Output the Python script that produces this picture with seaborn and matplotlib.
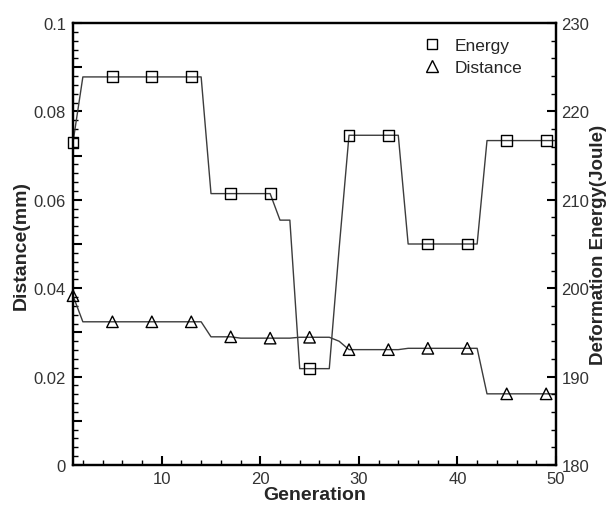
import pandas as pd
import numpy as np
import matplotlib.pyplot as plt
import matplotlib.ticker as mtick
import seaborn as sns
from matplotlib.lines import Line2D

sns.set_style('ticks')
plt.rcParams['font.family'] = ['Liberation Sans', 'DejaVu Sans']

# data (one value per generation)
generation = list(range(1, 51))
energy = [216.5,
          223.9, 223.9, 223.9, 223.9, 223.9, 223.9, 223.9, 223.9, 223.9, 223.9, 223.9, 223.9, 223.9,
          210.7, 210.7, 210.7, 210.7, 210.7, 210.7, 210.7,
          207.7, 207.7,
          190.9, 190.9, 190.9, 190.9,
          204.5,
          217.3, 217.3, 217.3, 217.3, 217.3, 217.3,
          205.0, 205.0, 205.0, 205.0, 205.0, 205.0, 205.0, 205.0,
          216.7, 216.7, 216.7, 216.7, 216.7, 216.7, 216.7, 216.7]
distance = [0.0383,
            0.0324, 0.0324, 0.0324, 0.0324, 0.0324, 0.0324, 0.0324, 0.0324, 0.0324, 0.0324, 0.0324, 0.0324, 0.0324,
            0.0290, 0.0290, 0.0290,
            0.0287, 0.0287, 0.0287, 0.0287, 0.0287, 0.0287,
            0.0289, 0.0289, 0.0289, 0.0289,
            0.0280,
            0.0261, 0.0261, 0.0261, 0.0261, 0.0261, 0.0261,
            0.0264, 0.0264, 0.0264, 0.0264, 0.0264, 0.0264, 0.0264, 0.0264,
            0.0161, 0.0161, 0.0161, 0.0161, 0.0161, 0.0161, 0.0161, 0.0161]
marker_gens = [1, 5, 9, 13, 17, 21, 25, 29, 33, 37, 41, 45, 49]

df = pd.DataFrame({'Generation': generation, 'Energy': energy, 'Distance': distance})
dm = df[df['Generation'].isin(marker_gens)]

line_col = '#3c3c3c'
fig = plt.figure(figsize=(6.1, 5.06), dpi=100)
ax = fig.add_axes([73/610, 1 - 466/506, 483/610, 442/506])
ax2 = ax.twinx()

# distance on left axis
sns.lineplot(data=df, x='Generation', y='Distance', ax=ax, color=line_col, lw=1.0)
sns.scatterplot(data=dm, x='Generation', y='Distance', ax=ax, marker='^', s=68,
                facecolors='none', edgecolor='black', linewidth=1.0, zorder=5, clip_on=False)

# energy on right axis
sns.lineplot(data=df, x='Generation', y='Energy', ax=ax2, color=line_col, lw=1.0)
sns.scatterplot(data=dm, x='Generation', y='Energy', ax=ax2, marker='s', s=62,
                facecolors='none', edgecolor='black', linewidth=1.0, zorder=5, clip_on=False)

ax.set_xlim(1, 50)
ax.set_ylim(0, 0.1)
ax2.set_ylim(180, 230)

ax.xaxis.set_major_locator(mtick.FixedLocator([10, 20, 30, 40, 50]))
ax.xaxis.set_minor_locator(mtick.MultipleLocator(2))
ax.yaxis.set_major_locator(mtick.MultipleLocator(0.01))
ax.yaxis.set_minor_locator(mtick.MultipleLocator(0.002))
ax.yaxis.set_major_formatter(mtick.FuncFormatter(
    lambda v, p: ('0' if abs(v) < 1e-9 else ('%g' % round(v, 3))) if round(v * 100) % 2 == 0 else ''))
ax2.yaxis.set_major_locator(mtick.MultipleLocator(10))
ax2.yaxis.set_minor_locator(mtick.MultipleLocator(2))

for a in (ax, ax2):
    for s in a.spines.values():
        s.set_linewidth(1.6)
        s.set_color('black')
    a.tick_params(which='major', direction='in', length=6.5, width=1.5, labelsize=12,
                  labelcolor='#333333', color='black')
    a.tick_params(which='minor', direction='in', length=3.8, width=1.0, color='black')
ax.tick_params(axis='y', which='both', right=False, pad=5)
ax.tick_params(axis='x', which='both', top=False, pad=4)
ax2.tick_params(axis='y', which='both', left=False, pad=4)

ax.set_xlabel('Generation', fontsize=14, fontweight='bold', labelpad=0)
ax.set_ylabel('Distance(mm)', fontsize=14, fontweight='bold', labelpad=3)
ax2.set_ylabel('Deformation Energy(Joule)', fontsize=13.5, fontweight='bold', labelpad=0)

handles = [Line2D([], [], ls='none', marker='s', ms=7.9, mfc='none', mec='black', mew=1.0),
           Line2D([], [], ls='none', marker='^', ms=8.2, mfc='none', mec='black', mew=1.0)]
ax2.legend(handles, ['Energy', 'Distance'], loc='upper left',
           bbox_to_anchor=(423/610, 1 - 39/506), bbox_transform=fig.transFigure,
           frameon=False, fontsize=12.5, handlelength=1.0, handletextpad=0.8,
           labelspacing=0.4, borderpad=0, borderaxespad=0)

plt.savefig('out.png', dpi=100)
